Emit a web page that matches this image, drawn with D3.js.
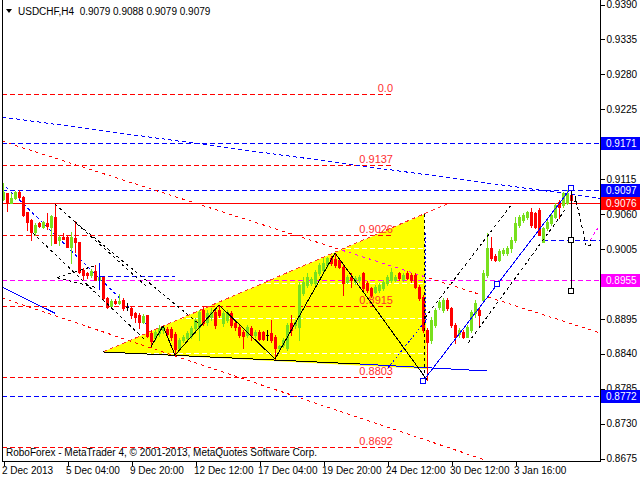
<!DOCTYPE html>
<html><head><meta charset="utf-8">
<script src="https://cdn.jsdelivr.net/npm/d3@7"></script>
<style>
html,body{margin:0;padding:0;background:#fff;}
svg{display:block;font-family:"Liberation Sans",Arial,sans-serif;}
</style></head><body>
<svg id="c" width="640" height="480"></svg>
<script>
// ---------------- DATA ----------------
const symbolTitle = "USDCHF,H4  0.9079 0.9088 0.9079 0.9079";
const creditText = "RoboForex - MetaTrader 4, \u00A9 2001-2013, MetaQuotes Software Corp.";

const opens = [0.9083,0.9092,0.9077,0.9084,0.9094,0.9086,0.9063,0.9050,0.9031,0.9045,
0.9039,0.9045,0.9039,0.9055,0.9019,0.9023,0.9023,0.9008,0.9022,0.9015,
0.8971,0.8966,0.8963,0.8970,0.8955,0.8960,0.8927,0.8915,0.8922,0.8919,
0.8924,0.8913,0.8911,0.8903,0.8900,0.8889,0.8900,0.8872,0.8864,0.8872,
0.8877,0.8878,0.8878,0.8870,0.8848,0.8861,0.8864,0.8867,0.8880,0.8881,
0.8908,0.8889,0.8897,0.8905,0.8908,0.8888,0.8892,0.8903,0.8888,0.8881,
0.8874,0.8869,0.8880,0.8869,0.8874,0.8874,0.8869,0.8872,0.8866,0.8848,
0.8853,0.8848,0.8888,0.8885,0.8881,0.8935,0.8948,0.8951,0.8951,0.8966,
0.8971,0.8979,0.8990,0.8989,0.8987,0.8976,0.8952,0.8960,0.8952,0.8955,
0.8966,0.8951,0.8943,0.8936,0.8940,0.8943,0.8951,0.8955,0.8955,0.8966,
0.8957,0.8966,0.8963,0.8963,0.8944,0.8929,0.8877,0.8861,0.8885,0.8913,
0.8908,0.8924,0.8911,0.8885,0.8870,0.8874,0.8866,0.8877,0.8903,0.8908,
0.8924,0.8963,0.9006,0.8993,0.8987,0.8998,0.8998,0.9006,0.9019,0.9042,
0.9050,0.9055,0.9063,0.9061,0.9066,0.9015,0.9037,0.9045,0.9055,0.9078,
0.9074,0.9077,0.9089,0.9079];
const highs = [0.9108,0.9092,0.9092,0.9095,0.9097,0.9088,0.9063,0.9052,0.9045,0.9047,
0.9048,0.9061,0.9058,0.9075,0.9026,0.9030,0.9026,0.9031,0.9048,0.9015,
0.8974,0.8968,0.8973,0.8979,0.8982,0.8960,0.8929,0.8926,0.8926,0.8933,
0.8927,0.8919,0.8915,0.8905,0.8903,0.8902,0.8900,0.8877,0.8877,0.8885,
0.8883,0.8881,0.8881,0.8874,0.8864,0.8869,0.8875,0.8883,0.8896,0.8908,
0.8913,0.8908,0.8911,0.8908,0.8916,0.8907,0.8908,0.8907,0.8891,0.8885,
0.8877,0.8885,0.8883,0.8877,0.8877,0.8875,0.8877,0.8892,0.8869,0.8853,
0.8864,0.8888,0.8900,0.8892,0.8952,0.8960,0.8966,0.8960,0.8971,0.8982,
0.8990,0.8992,0.8993,0.8998,0.8990,0.8979,0.8963,0.8966,0.8962,0.8963,
0.8968,0.8954,0.8944,0.8948,0.8951,0.8955,0.8963,0.8974,0.8963,0.8968,
0.8966,0.8970,0.8966,0.8966,0.8948,0.8932,0.8880,0.8897,0.8911,0.8924,
0.8927,0.8927,0.8913,0.8888,0.8880,0.8877,0.8885,0.8908,0.8924,0.8911,
0.8971,0.9030,0.9023,0.8996,0.9004,0.9006,0.9009,0.9023,0.9055,0.9058,
0.9061,0.9064,0.9069,0.9063,0.9069,0.9039,0.9050,0.9061,0.9077,0.9081,
0.9094,0.9097,0.9102,0.9088];
const lows = [0.9081,0.9064,0.9077,0.9083,0.9084,0.9056,0.9034,0.9019,0.9026,0.9039,
0.9037,0.9036,0.9011,0.9014,0.9011,0.9020,0.9008,0.8982,0.9000,0.8966,
0.8957,0.8959,0.8960,0.8955,0.8943,0.8926,0.8911,0.8911,0.8918,0.8918,
0.8908,0.8908,0.8896,0.8889,0.8880,0.8888,0.8866,0.8850,0.8861,0.8867,
0.8872,0.8867,0.8861,0.8837,0.8845,0.8858,0.8861,0.8864,0.8872,0.8861,
0.8885,0.8885,0.8892,0.8880,0.8897,0.8883,0.8889,0.8881,0.8877,0.8866,
0.8848,0.8866,0.8861,0.8866,0.8861,0.8861,0.8861,0.8858,0.8831,0.8845,
0.8850,0.8845,0.8869,0.8880,0.8861,0.8932,0.8944,0.8948,0.8944,0.8963,
0.8968,0.8976,0.8979,0.8976,0.8974,0.8932,0.8951,0.8944,0.8949,0.8952,
0.8940,0.8936,0.8929,0.8935,0.8936,0.8940,0.8948,0.8952,0.8954,0.8955,
0.8954,0.8957,0.8952,0.8943,0.8924,0.8874,0.8798,0.8856,0.8881,0.8910,
0.8905,0.8908,0.8881,0.8856,0.8866,0.8864,0.8866,0.8874,0.8897,0.8881,
0.8921,0.8960,0.8987,0.8985,0.8985,0.8995,0.8995,0.9000,0.9015,0.9039,
0.9047,0.9052,0.9039,0.9037,0.9026,0.9015,0.9034,0.9042,0.9053,0.9053,
0.9070,0.9075,0.9078,0.9079];
const closes = [0.9094,0.9077,0.9084,0.9094,0.9086,0.9058,0.9047,0.9031,0.9042,0.9041,
0.9047,0.9041,0.9056,0.9014,0.9023,0.9020,0.9008,0.9023,0.9015,0.8968,
0.8963,0.8963,0.8970,0.8955,0.8960,0.8927,0.8913,0.8922,0.8919,0.8922,
0.8911,0.8913,0.8900,0.8897,0.8889,0.8899,0.8867,0.8859,0.8874,0.8880,
0.8881,0.8870,0.8866,0.8847,0.8861,0.8866,0.8872,0.8880,0.8892,0.8905,
0.8888,0.8903,0.8905,0.8885,0.8900,0.8903,0.8905,0.8885,0.8881,0.8869,
0.8867,0.8881,0.8869,0.8874,0.8863,0.8863,0.8869,0.8861,0.8848,0.8852,
0.8861,0.8885,0.8877,0.8889,0.8948,0.8952,0.8960,0.8957,0.8968,0.8979,
0.8982,0.8990,0.8982,0.8979,0.8976,0.8951,0.8960,0.8955,0.8959,0.8960,
0.8943,0.8940,0.8932,0.8944,0.8948,0.8952,0.8960,0.8968,0.8960,0.8959,
0.8963,0.8959,0.8955,0.8944,0.8927,0.8877,0.8858,0.8892,0.8908,0.8921,
0.8924,0.8911,0.8885,0.8866,0.8877,0.8866,0.8881,0.8905,0.8919,0.8900,
0.8966,0.9006,0.8990,0.8987,0.9001,0.9003,0.9006,0.9019,0.9045,0.9055,
0.9058,0.9063,0.9042,0.9039,0.9026,0.9037,0.9047,0.9058,0.9074,0.9070,
0.9092,0.9092,0.9081,0.9079];

const timeTickIndex = [0,16,32,48,64,80,96,112,128];
const timeTickLabels = ["2 Dec 2013","5 Dec 04:00","9 Dec 20:00","12 Dec 12:00","17 Dec 04:00","19 Dec 20:00","24 Dec 12:00","30 Dec 12:00","3 Jan 16:00"];
const priceTicks = [0.9390,0.9335,0.9280,0.9225,0.9170,0.9115,0.9060,0.9005,0.8950,0.8895,0.8840,0.8785,0.8730,0.8675];

// horizontal level objects (price)
const blueLevels = [0.9171,0.9097,0.8772];
const bidLevel = 0.9076;
const magentaLevel = 0.8955;
// fibonacci levels and their labels
const fibLevels = [0.9248,0.9137,0.9026,0.8915,0.8803,0.8692];
const fibLabels = ["0.0","0.9137","0.9026","0.8915","0.8803","0.8692"];
const fibSpan = [-0.25,97.5];

// trend-line objects as [barIndex, price] anchors
const blueTrendDesc = [[-0.25,0.9212],[149.25,0.9084]];
const redTrendUpper = [[-0.25,0.9174],[149.25,0.8872]];
const redTrendLower = [[-0.25,0.8927],[120.5,0.8672]];
const blueSolidLeft = [[-0.25,0.8944],[13,0.8903]];
const triangle = [[25,0.8842],[105.25,0.9059],[106,0.8815]];
const triangleEdge = [[25,0.8842],[111,0.9075]];
const triangleBase = [[25,0.8842],[89.25,0.8823]];
const blueBase = [[89.25,0.8823],[121,0.8812]];
const zigzag = [[37,0.8850],[40,0.8883],[43,0.8837],[54,0.8916],[68,0.8831],[83,0.8998],[106,0.8798]];
const triangleVertical = [[105.25,0.9059],[105.25,0.8801]];
const blueVertical = [[105.6,0.9029],[105.6,0.8887]];
const blueRise = [[105,0.8796],[142,0.9100]];
const blueRiseMarks = [[105,0.8796],[123.5,0.8949],[142,0.9100]];
const targetStick = [[142,0.9100],[142,0.8938]];
const targetMarks = [[142,0.9018],[142,0.8938]];
const channelRight1 = [[105.5,0.8896],[127.5,0.9077]];
const channelRight2 = [[116.25,0.8856],[141,0.9070]];
const blueDotRise = [[96.25,0.8817],[106.25,0.8896]];
const projection = [[143,0.9088],[145.5,0.9018],[145.5,0.9010],[146.75,0.9010],[146.75,0.9018]];
const projectionUp = [[146.75,0.9018],[149.25,0.9042]];
const channelLeftA = [[13,0.9075],[36.25,0.8943]];
const channelLeftB = [[18,0.9047],[49.25,0.8885]];
const channelLeftC = [[7.5,0.9029],[35.5,0.8861]];
const blueDashDesc = [[-0.25,0.9108],[36,0.8885]];
const smallWedge1 = [[13.5,0.8959],[23.5,0.8979]];
const smallWedge2 = [[13.5,0.8959],[23.5,0.8943]];
const blueTick = [[24,0.8982],[24,0.8940]];
const blueShortLevel1 = [[24.25,0.8962],[43,0.8962]];
const blueShortLevel2 = [[135,0.9018],[149.25,0.9018]];

// ---------------- DRAW ----------------
const W = 640, H = 480;
const L = 2, R = 600, T = 0, B = 461;
const FONT = "10px";
const svg = d3.select("#c");
const x = d3.scaleLinear().domain([0,143]).range([3,575]);
const y = d3.scaleLinear().domain([0.8675,0.9390]).range([458,4]);

const GREEN = "#78e01e", RED = "#ff0000", BLUE = "#0000ff", MAG = "#ff00ff";

svg.append("rect").attr("width",W).attr("height",H).attr("fill","#fff");
const defs = svg.append("defs");
defs.append("clipPath").attr("id","plot").append("rect").attr("x",L).attr("y",T).attr("width",R-L).attr("height",B-T);
defs.append("clipPath").attr("id","tri").append("polygon")
  .attr("points", triangle.map(d=>[x(d[0]),y(d[1])].join(",")).join(" "));

const g = svg.append("g").attr("clip-path","url(#plot)");
const line = d3.line().x(d=>x(d[0])).y(d=>y(d[1]));
function path(data, color, dash, parent){
  return (parent||g).append("path").attr("d",line(data)).attr("fill","none")
    .attr("stroke",color).attr("stroke-width",1)
    .attr("stroke-dasharray",dash||null).attr("shape-rendering","crispEdges");
}
const py = p => Math.round(y(p)) + 0.5;
function hline(p, x0, x1, color, dash){
  g.append("line").attr("x1",x0).attr("x2",x1).attr("y1",py(p)).attr("y2",py(p))
    .attr("stroke",color).attr("stroke-dasharray",dash||null).attr("shape-rendering","crispEdges");
}

// yellow triangle
g.append("polygon").attr("points", triangle.map(d=>[x(d[0]),y(d[1])].join(",")).join(" "))
  .attr("fill","#ffff00").attr("stroke","none");

// white grid (visible only on yellow)
priceTicks.forEach(p=>hline(p, L, R, "#ffffff", "5,3"));

// level lines
blueLevels.forEach(p=>hline(p, L, R, BLUE, "5,3"));
hline(magentaLevel, L, R, MAG, "5,3");
hline(bidLevel, L, R, RED, null);
hline(blueShortLevel1[0][1], x(blueShortLevel1[0][0]), x(blueShortLevel1[1][0]), BLUE, "5,3");
hline(blueShortLevel2[0][1], x(blueShortLevel2[0][0]), x(blueShortLevel2[1][0]), BLUE, "5,3");

// fibonacci
fibLevels.forEach((p,i)=>{
  hline(p, x(fibSpan[0]), x(fibSpan[1]), RED, "5,3");
  g.append("text").attr("x", x(fibSpan[1])).attr("y", py(p)-3)
    .attr("text-anchor","end").attr("font-size","11px").attr("fill","#ff3030").text(fibLabels[i]);
});

// sloping trend lines
path(blueTrendDesc, BLUE, "4,3");
path(redTrendUpper, RED, "3,4");
const triG = g.append("g").attr("clip-path","url(#tri)");
path(redTrendUpper, MAG, "3,4", triG);
path(redTrendLower, RED, "3,4");
path(blueSolidLeft, BLUE, null);
path(blueDashDesc, BLUE, "3,3");
path(triangleEdge, "#ff3030", "4,3");
path(blueBase, BLUE, null);
path(triangleBase, "#000", null);
path(blueDotRise, BLUE, "2,2");
path(blueVertical, BLUE, "2,2");

// candles
const cg = g.append("g").attr("shape-rendering","crispEdges");
opens.forEach((o,i)=>{
  const c = closes[i], h = highs[i], l = lows[i];
  const cx = Math.round(x(i));
  const col = c > o ? GREEN : (c < o ? RED : "#000");
  const yh = Math.round(y(h)), yl = Math.round(y(l));
  cg.append("rect").attr("x",cx).attr("y",yh).attr("width",1).attr("height",Math.max(1,yl-yh+1)).attr("fill",col);
  const yt = Math.round(y(Math.max(o,c))), yb = Math.round(y(Math.min(o,c)));
  cg.append("rect").attr("x",cx-1).attr("y",yt).attr("width",3).attr("height",Math.max(1,yb-yt+1)).attr("fill",col);
});

// analysis drawings on top
path(zigzag, "#000", null);
path(triangleVertical, "#000", "3,3");
path(channelLeftA, "#000", "3,3");
path(channelLeftB, "#000", "3,3");
path(channelLeftC, "#000", "3,3");
path(smallWedge1, "#000", "3,3");
path(smallWedge2, "#000", "3,3");
path(blueTick, BLUE, null);
path(channelRight1, "#000", "3,3");
path(channelRight2, "#000", "3,3");
path(blueRise, BLUE, null);
path(targetStick, "#000", null);
path(projection, "#000", "3,3");
path(projectionUp, MAG, "3,3");
function mark(d, color){
  g.append("rect").attr("x",Math.round(x(d[0]))-2.5).attr("y",Math.round(y(d[1]))-2.5)
    .attr("width",5).attr("height",5).attr("fill","#fff").attr("stroke",color)
    .attr("shape-rendering","crispEdges");
}
blueRiseMarks.forEach(d=>mark(d, BLUE));
targetMarks.forEach(d=>mark(d, "#000"));

// frame
svg.append("g").attr("shape-rendering","crispEdges").call(s=>{
  s.append("line").attr("x1",L+0.5).attr("x2",L+0.5).attr("y1",0).attr("y2",B+0.5).attr("stroke","#000");
  s.append("line").attr("x1",R+0.5).attr("x2",R+0.5).attr("y1",0).attr("y2",B+0.5).attr("stroke","#000");
  s.append("line").attr("x1",L).attr("x2",R+1).attr("y1",B+0.5).attr("y2",B+0.5).attr("stroke","#000");
});

// price axis (labels hidden behind level boxes are left out, as in the reference)
const hiddenTicks = [0.9170,0.8950];
const ya = svg.append("g").attr("transform",`translate(${R+0.5},0.5)`)
  .call(d3.axisRight(y).tickValues(priceTicks).tickSize(4).tickPadding(2)
    .tickFormat(d => hiddenTicks.includes(d) ? "" : d3.format(".4f")(d)));
ya.select(".domain").remove();
ya.selectAll("text").attr("font-family","Liberation Sans, Arial, sans-serif").attr("font-size",FONT).attr("fill","#000");
ya.selectAll("line").attr("stroke","#000").attr("shape-rendering","crispEdges");

function box(p, color){
  const yy = Math.round(y(p));
  svg.append("rect").attr("x",R+1).attr("y",yy-6).attr("width",39).attr("height",13).attr("fill",color);
  svg.append("text").attr("x",R+6).attr("y",yy+4).attr("font-size",FONT).attr("fill","#fff").text(d3.format(".4f")(p));
}
blueLevels.forEach(p=>box(p, BLUE));
box(bidLevel, RED);
box(magentaLevel, MAG);

// time axis
const xa = svg.append("g").attr("transform",`translate(0.5,${B+0.5})`)
  .call(d3.axisBottom(x).tickValues(timeTickIndex).tickSize(4).tickFormat((d,i)=>timeTickLabels[i]));
xa.select(".domain").remove();
xa.selectAll("line").attr("stroke","#000").attr("shape-rendering","crispEdges");
xa.selectAll("text").attr("text-anchor","start").attr("dx","-2").attr("dy","0.55em")
  .attr("font-family","Liberation Sans, Arial, sans-serif").attr("font-size",FONT).attr("fill","#000");

// title
svg.append("path").attr("d","M6,9 L12,9 L9,13 Z").attr("fill","#000");
svg.append("text").attr("x",18).attr("y",15).attr("font-size",FONT).attr("fill","#000")
  .attr("xml:space","preserve").style("white-space","pre").text(symbolTitle);
// credit
svg.append("text").attr("x",6).attr("y",456).attr("font-size",FONT).attr("fill","#000").text(creditText);
</script>
</body></html>
